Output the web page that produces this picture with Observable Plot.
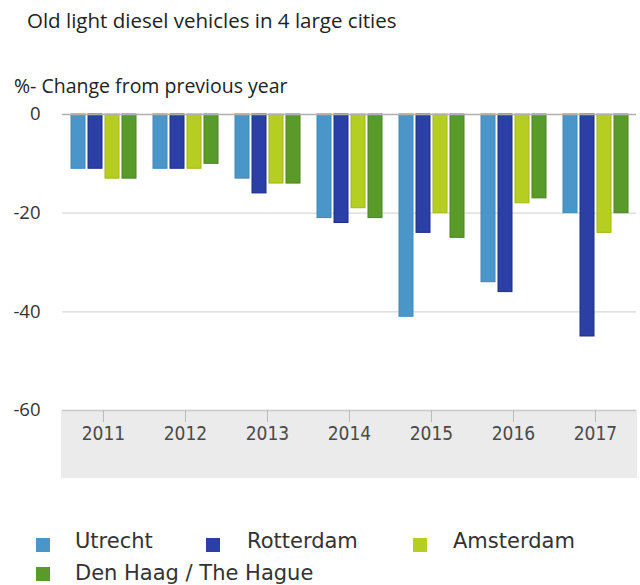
<!DOCTYPE html>
<html><head><meta charset="utf-8">
<script src="https://cdn.jsdelivr.net/npm/d3@7"></script>
<script src="https://cdn.jsdelivr.net/npm/@observablehq/plot@0.6"></script>
<style>
body{margin:0;background:#fff;width:640px;height:585px;position:relative;overflow:hidden;font-family:"Open Sans",sans-serif;}
#title{position:absolute;left:27px;top:6px;font-size:20.5px;line-height:28px;color:#222;white-space:nowrap;}
#sub{position:absolute;left:14px;top:72px;font-size:19.5px;line-height:27px;color:#222;white-space:nowrap;}
#chart{position:absolute;left:0;top:100px;}
#legend{position:absolute;left:0;top:0;width:640px;height:585px;font-family:"DejaVu Sans",sans-serif;font-size:21px;color:#333;pointer-events:none;}
.sw{position:absolute;width:14px;height:14px;}
.lt{position:absolute;line-height:24px;white-space:nowrap;}
</style></head><body>
<div id="title">Old light diesel vehicles in 4 large cities</div>
<div id="sub">%- Change from previous year</div>
<div id="chart"></div>
<div id="legend"></div>
<script>
const years = ["2011","2012","2013","2014","2015","2016","2017"];
const cities = ["Utrecht","Rotterdam","Amsterdam","Den Haag / The Hague"];
const utrecht   = [-11,-11,-13,-21,-41,-34,-20];
const rotterdam = [-11,-11,-16,-22,-24,-36,-45];
const amsterdam = [-13,-11,-14,-19,-20,-18,-24];
const denHaag   = [-13,-10,-14,-21,-25,-17,-20];
const fills   = ["#4b96c9","#2b3fa6","#b6cd22","#5a9a2a"];
const strokes = ["#3d8aba","#1e2f85","#a3b918","#4a8520"];
const yTicks = [0,-20,-40,-60];

const series = [utrecht, rotterdam, amsterdam, denHaag];
const data = [];
series.forEach((vals, ci) => vals.forEach((v, yi) => data.push({year: years[yi], city: cities[ci], value: v})));

const chart = Plot.plot({
  width: 640, height: 380,
  marginTop: 14, marginBottom: 70, marginLeft: 61, marginRight: 3,
  style: {background: "transparent", fontFamily: "Open Sans", fontSize: "15px", color: "#333", overflow: "visible"},
  fx: {domain: years, padding: 0, label: null},
  x: {domain: cities, paddingInner: 0.2, paddingOuter: 0.45, axis: null},
  y: {domain: [-60, 0], axis: null},
  marks: [
    Plot.ruleY([-20, -40], {stroke: "#d9d9d9", strokeWidth: 1.2}),
    ...cities.map((c, i) => Plot.barY(data.filter(d => d.city === c), {
      fx: "year", x: "city", y: "value", fill: fills[i], stroke: strokes[i], strokeWidth: 1
    })),
    Plot.ruleY([0], {stroke: "#b0b0b0", strokeWidth: 1.5}),
    Plot.ruleY([-60], {stroke: "#c8c8c8", strokeWidth: 1.5}),
    Plot.axisY(yTicks, {anchor: "left", tickSize: 0, tickPadding: 22, fontSize: 18.5, label: null, fill: "#333", tickFormat: d => String(d)}),
    Plot.axisFx({anchor: "bottom", tickSize: 12, tickPadding: 4, fontSize: 19, fontFamily: "DejaVu Sans Condensed", label: null, stroke: "#bbb", fill: "#4a4a4a"})
  ]
});
document.getElementById("chart").appendChild(chart);

// gray band behind the x axis
const fxr = chart.scale("fx").range;
const yb = chart.scale("y").apply(-60);
d3.select(chart).insert("rect", ":first-child")
  .attr("x", fxr[0]).attr("width", fxr[1] - fxr[0])
  .attr("y", yb).attr("height", 68)
  .attr("fill", "#ebebeb");

// legend
const swPos = [[36, 538], [206, 538], [413, 538], [36, 567]];
const txPos = [[75, 529], [247, 529], [453, 529], [75, 561]];
const leg = document.getElementById("legend");
cities.forEach((c, i) => {
  const sw = document.createElement("div");
  sw.className = "sw";
  sw.style.left = swPos[i][0] + "px";
  sw.style.top = swPos[i][1] + "px";
  sw.style.background = fills[i];
  const tx = document.createElement("div");
  tx.className = "lt";
  tx.style.left = txPos[i][0] + "px";
  tx.style.top = txPos[i][1] + "px";
  tx.textContent = c;
  leg.appendChild(sw); leg.appendChild(tx);
});
</script>
</body></html>
